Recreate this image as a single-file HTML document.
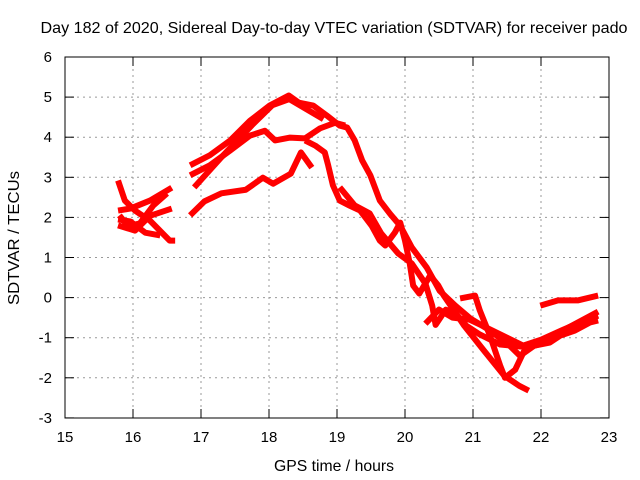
<!DOCTYPE html>
<html><head><meta charset="utf-8"><style>
body{margin:0;background:#fff}
svg{display:block;font-family:"Liberation Sans",sans-serif}
</style></head><body>
<svg id="c" width="640" height="480" xmlns="http://www.w3.org/2000/svg">
<text x="334" y="33" font-size="16" text-anchor="middle" textLength="587" lengthAdjust="spacingAndGlyphs">Day 182 of 2020, Sidereal Day-to-day VTEC variation (SDTVAR) for receiver pado</text>
<text x="334" y="471" font-size="16" text-anchor="middle" textLength="120" lengthAdjust="spacingAndGlyphs">GPS time / hours</text>
<text x="0" y="0" font-size="16" text-anchor="middle" textLength="134" lengthAdjust="spacingAndGlyphs" transform="translate(19,238) rotate(-90)">SDTVAR / TECUs</text>
<g id="grid"></g><g id="ticks"></g><g id="series"></g>
<rect x="65" y="57" width="544" height="361" fill="none" stroke="#000" stroke-width="1"/>
</svg>
<script>
const xTicks=[15,16,17,18,19,20,21,22,23];
const yTicks=[-3,-2,-1,0,1,2,3,4,5,6];
// series as [hour, value] pairs
const sL1=[[15.78,2.92],[15.88,2.42],[16.03,2.17],[16.25,1.92],[16.54,1.42],[16.62,1.42]];
const sL2=[[15.78,2.17],[15.96,2.22],[16.25,2.42],[16.57,2.74]];
const sL3=[[15.78,1.8],[16.03,1.67],[16.25,2.04],[16.57,2.22]];
const sL4=[[15.78,1.95],[15.96,1.9],[16.18,1.62],[16.4,1.55]];
const sL5=[[15.8,2.05],[15.93,1.78],[16.1,1.85],[16.3,2.3],[16.5,2.6]];
const sU1=[[16.84,3.3],[17.13,3.55],[17.43,3.92],[17.72,4.41],[18.01,4.79],[18.29,5.04],[18.44,4.86],[18.65,4.79],[18.85,4.54],[19.04,4.29],[19.15,4.24],[19.26,3.92],[19.37,3.42],[19.49,3.05],[19.63,2.42],[19.78,2.09],[19.93,1.79],[20.1,1.25],[20.32,0.75],[20.51,0.17],[20.74,-0.2],[20.96,-0.52],[21.25,-0.82],[21.54,-1.2],[21.69,-1.45],[21.9,-1.2],[22.13,-1.12],[22.28,-0.95],[22.5,-0.82],[22.72,-0.62],[22.84,-0.57]];
const sU2=[[16.84,3.05],[17.13,3.3],[17.43,3.67],[17.72,4.04],[17.94,4.16],[18.09,3.92],[18.31,3.99],[18.53,3.97],[18.75,4.22],[18.97,4.36],[19.12,4.29]];
const sU3=[[16.9,2.75],[17.3,3.5],[17.75,4.3],[18.05,4.8],[18.3,4.95],[18.55,4.7],[18.8,4.45]];
const sC=[[16.84,2.05],[17.05,2.4],[17.3,2.6],[17.66,2.69],[17.91,2.99],[18.06,2.84],[18.32,3.09],[18.47,3.62],[18.63,3.24]];
const sD=[[18.53,3.92],[18.68,3.79],[18.82,3.62],[18.87,3.3],[18.94,2.8],[19.04,2.42],[19.19,2.29],[19.34,2.17],[19.51,1.79],[19.63,1.42],[19.71,1.3],[19.85,1.62],[19.93,1.87],[20.0,1.42],[20.07,0.85],[20.12,0.3],[20.21,0.1],[20.37,0.55],[20.49,0.3],[20.57,0.05],[20.72,-0.32],[20.87,-0.7],[21.16,-1.32],[21.46,-1.95],[21.68,-2.2],[21.82,-2.32]];
const sE=[[19.04,2.75],[19.26,2.3],[19.48,2.1],[19.65,1.6],[19.9,1.1],[20.1,0.85],[20.3,0.35],[20.4,-0.2],[20.45,-0.68],[20.6,-0.3],[20.75,-0.4],[20.9,-0.7],[21.1,-0.92],[21.4,-1.17],[21.7,-1.22],[22.0,-1.05],[22.3,-0.82],[22.6,-0.6],[22.84,-0.45]];
const sF=[[20.81,-0.02],[21.03,0.05],[21.1,-0.32],[21.25,-0.95],[21.4,-1.7],[21.47,-2.0],[21.62,-1.8],[21.76,-1.3],[21.9,-1.2]];
const sG=[[21.99,-0.2],[22.25,-0.07],[22.54,-0.07],[22.84,0.05]];
const sK=[[20.3,-0.65],[20.5,-0.3],[20.7,-0.5],[20.95,-0.55],[21.2,-0.75],[21.5,-1.0],[21.8,-1.25],[22.1,-1.1],[22.4,-0.75],[22.84,-0.35]];
const allSeries=[sL1,sL2,sL3,sL4,sL5,sU1,sU2,sU3,sC,sD,sE,sF,sG,sK];
const X=h=>65+(h-15)*68, Y=v=>297.6-v*40.1;
const NS="http://www.w3.org/2000/svg";
const g=document.getElementById('grid'),t=document.getElementById('ticks'),s=document.getElementById('series');
function mk(tag,a,p){const e=document.createElementNS(NS,tag);for(const k in a)e.setAttribute(k,a[k]);p.appendChild(e);return e;}
xTicks.forEach(v=>{const x=X(v);
 if(v>15&&v<23){const l=mk('line',{x1:x,x2:x,y1:57,y2:418,stroke:'#999','stroke-dasharray':'2,4'},g);
 
 }
 mk('line',{x1:x,x2:x,y1:418,y2:409,stroke:'#000'},t);mk('line',{x1:x,x2:x,y1:57,y2:66,stroke:'#000'},t);
 const tx=mk('text',{x:x,y:442,'font-size':15,'text-anchor':'middle'},t);tx.textContent=v;
 
 });
yTicks.forEach(v=>{const y=Y(v);
 if(v>-3&&v<6){const l=mk('line',{x1:65,x2:609,y1:y,y2:y,stroke:'#999','stroke-dasharray':'2,4'},g);
 
 }
 mk('line',{x1:65,x2:74,y1:y,y2:y,stroke:'#000'},t);mk('line',{x1:609,x2:600,y1:y,y2:y,stroke:'#000'},t);
 const tx=mk('text',{x:52,y:y+5,'font-size':15,'text-anchor':'end'},t);tx.textContent=v;
 
 });
allSeries.forEach(ser=>{
 const p=mk('polyline',{points:ser.map(d=>X(d[0])+','+Y(d[1])).join(' '),fill:'none',stroke:'#f00','stroke-width':6,'stroke-linejoin':'round','stroke-linecap':'butt'},s);
 
 
});
</script>
</body></html>
